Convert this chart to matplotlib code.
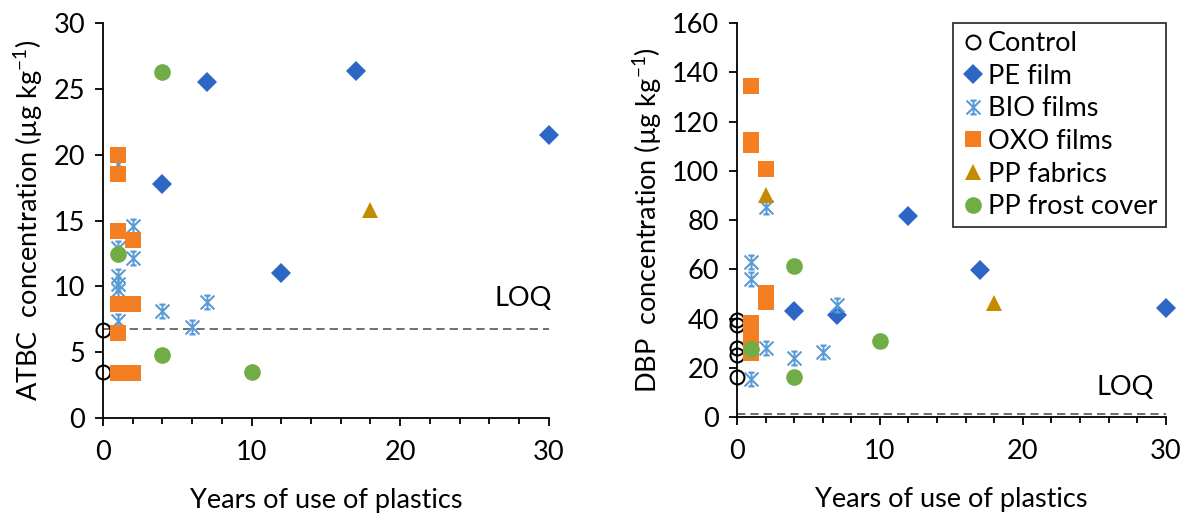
import matplotlib
matplotlib.use('Agg')
import matplotlib.pyplot as plt
from matplotlib.path import Path
from matplotlib.ticker import MultipleLocator

plt.rcParams['font.family'] = ['Lato', 'DejaVu Sans']
plt.rcParams['mathtext.fontset'] = 'custom'
plt.rcParams['mathtext.rm'] = 'Lato'
plt.rcParams['font.size'] = 19.5

# ATBC panel data (years, concentration)
ctrl_x_atbc = [0, 0]
ctrl_atbc = [6.7, 3.5]
pe_x_atbc = [4, 7, 12, 17, 30]
pe_atbc = [17.8, 25.5, 11.0, 26.35, 21.5]
bio_x_atbc = [1, 1, 1, 1, 1, 1, 2, 2, 4, 6, 7]
bio_atbc = [19.3, 12.9, 10.8, 10.2, 9.7, 7.4, 14.6, 12.15, 8.1, 6.9, 8.8]
oxo_x_atbc = [1, 1, 1, 2, 1, 2, 1, 1, 2]
oxo_atbc = [20.0, 18.55, 14.2, 13.5, 8.7, 8.7, 6.5, 3.45, 3.45]
ppf_x_atbc = [18]
ppf_atbc = [15.8]
frost_x_atbc = [1, 4, 4, 10]
frost_atbc = [12.45, 26.3, 4.8, 3.5]
loq_atbc = 6.75

# DBP panel data
ctrl_x_dbp = [0, 0, 0, 0, 0]
ctrl_dbp = [39.4, 37.4, 27.9, 25.2, 16.4]
pe_x_dbp = [4, 7, 12, 17, 30]
pe_dbp = [43.0, 41.4, 81.7, 59.7, 44.4]
bio_x_dbp = [1, 1, 1, 2, 2, 4, 6, 7]
bio_dbp = [63.1, 55.9, 15.3, 85.4, 27.9, 23.8, 26.5, 45.5]
oxo_x_dbp = [1, 1, 1, 2, 2, 2, 1, 1, 1, 1]
oxo_dbp = [134.4, 112.5, 110.5, 100.6, 50.2, 46.9, 38, 34, 30, 26]
ppf_x_dbp = [2, 18]
ppf_dbp = [90, 46.5]
frost_x_dbp = [1, 4, 4, 10]
frost_dbp = [27.5, 61.3, 16.4, 30.9]
loq_dbp = 1.1

# asterisk-like marker with end caps
star = Path([(-1, -1), (1, 1), (-1, 1), (1, -1), (0, -1), (0, 1),
             (-0.45, 1), (0.45, 1), (-0.45, -1), (0.45, -1)],
            [Path.MOVETO, Path.LINETO] * 5)

styles = {
    'Control': dict(marker='o', ms=10, mfc='none', mec='black', mew=1.5),
    'PE film': dict(marker='D', ms=10.5, mfc='#2D67C6', mec='#2D67C6', mew=0),
    'BIO films': dict(marker=star, ms=10, mfc='none', mec='#5B9BD5', mew=1.5),
    'OXO films': dict(marker='s', ms=12, mfc='#F47E22', mec='#F47E22', mew=0),
    'PP fabrics': dict(marker='^', ms=12, mfc='#C68A00', mec='#C68A00', mew=0),
    'PP frost cover': dict(marker='o', ms=12, mfc='#70AD47', mec='#70AD47', mew=0),
}

fig = plt.figure(figsize=(11.84, 5.13), dpi=100)
ax1 = fig.add_axes([0.087, 0.185, 0.3765, 0.77])
ax2 = fig.add_axes([0.6225, 0.187, 0.362, 0.768])

panels = [
    (ax1, [(ctrl_x_atbc, ctrl_atbc), (pe_x_atbc, pe_atbc), (bio_x_atbc, bio_atbc),
           (oxo_x_atbc, oxo_atbc), (ppf_x_atbc, ppf_atbc), (frost_x_atbc, frost_atbc)],
     loq_atbc, 30, 5, 'ATBC  concentration (µg kg$^{-1}$)', (28.3, 9.1)),
    (ax2, [(ctrl_x_dbp, ctrl_dbp), (pe_x_dbp, pe_dbp), (bio_x_dbp, bio_dbp),
           (oxo_x_dbp, oxo_dbp), (ppf_x_dbp, ppf_dbp), (frost_x_dbp, frost_dbp)],
     loq_dbp, 160, 20, 'DBP  concentration (µg kg$^{-1}$)', (27.2, 12.0)),
]

for ax, series, loq, ymax, ystep, ylabel, loq_pos in panels:
    ax.axhline(loq, color='#555555', lw=1.2, ls=(0, (5, 3)), zorder=1)
    for (name, st), (xs, ys) in zip(styles.items(), series):
        ax.plot(xs, ys, ls='none', label=name, clip_on=False, zorder=3, **st)
    ax.text(loq_pos[0], loq_pos[1], 'LOQ', ha='center', va='center')
    ax.set_xlim(0, 30)
    ax.set_ylim(0, ymax)
    ax.xaxis.set_major_locator(MultipleLocator(10))
    ax.xaxis.set_minor_locator(MultipleLocator(2))
    ax.yaxis.set_major_locator(MultipleLocator(ystep))
    for s in ['top', 'right']:
        ax.spines[s].set_visible(False)
    for s in ['left', 'bottom']:
        ax.spines[s].set_linewidth(1.3)
    ax.tick_params(which='major', direction='out', length=6, width=1.3, pad=7)
    ax.tick_params(axis='x', which='major', pad=10)
    ax.tick_params(axis='x', which='minor', direction='out', length=4, width=1.3)
    ax.set_xlabel('Years of use of plastics', labelpad=16)
    ax.set_ylabel(ylabel, labelpad=6)

leg = ax2.legend(loc='upper right', bbox_to_anchor=(1.0, 1.0), frameon=True,
                 fancybox=False, edgecolor='black', handletextpad=0.1,
                 handlelength=0.9, labelspacing=0.28, borderpad=0.3,
                 borderaxespad=0)
leg.get_frame().set_linewidth(1.3)

fig.savefig('out.png', dpi=100)
